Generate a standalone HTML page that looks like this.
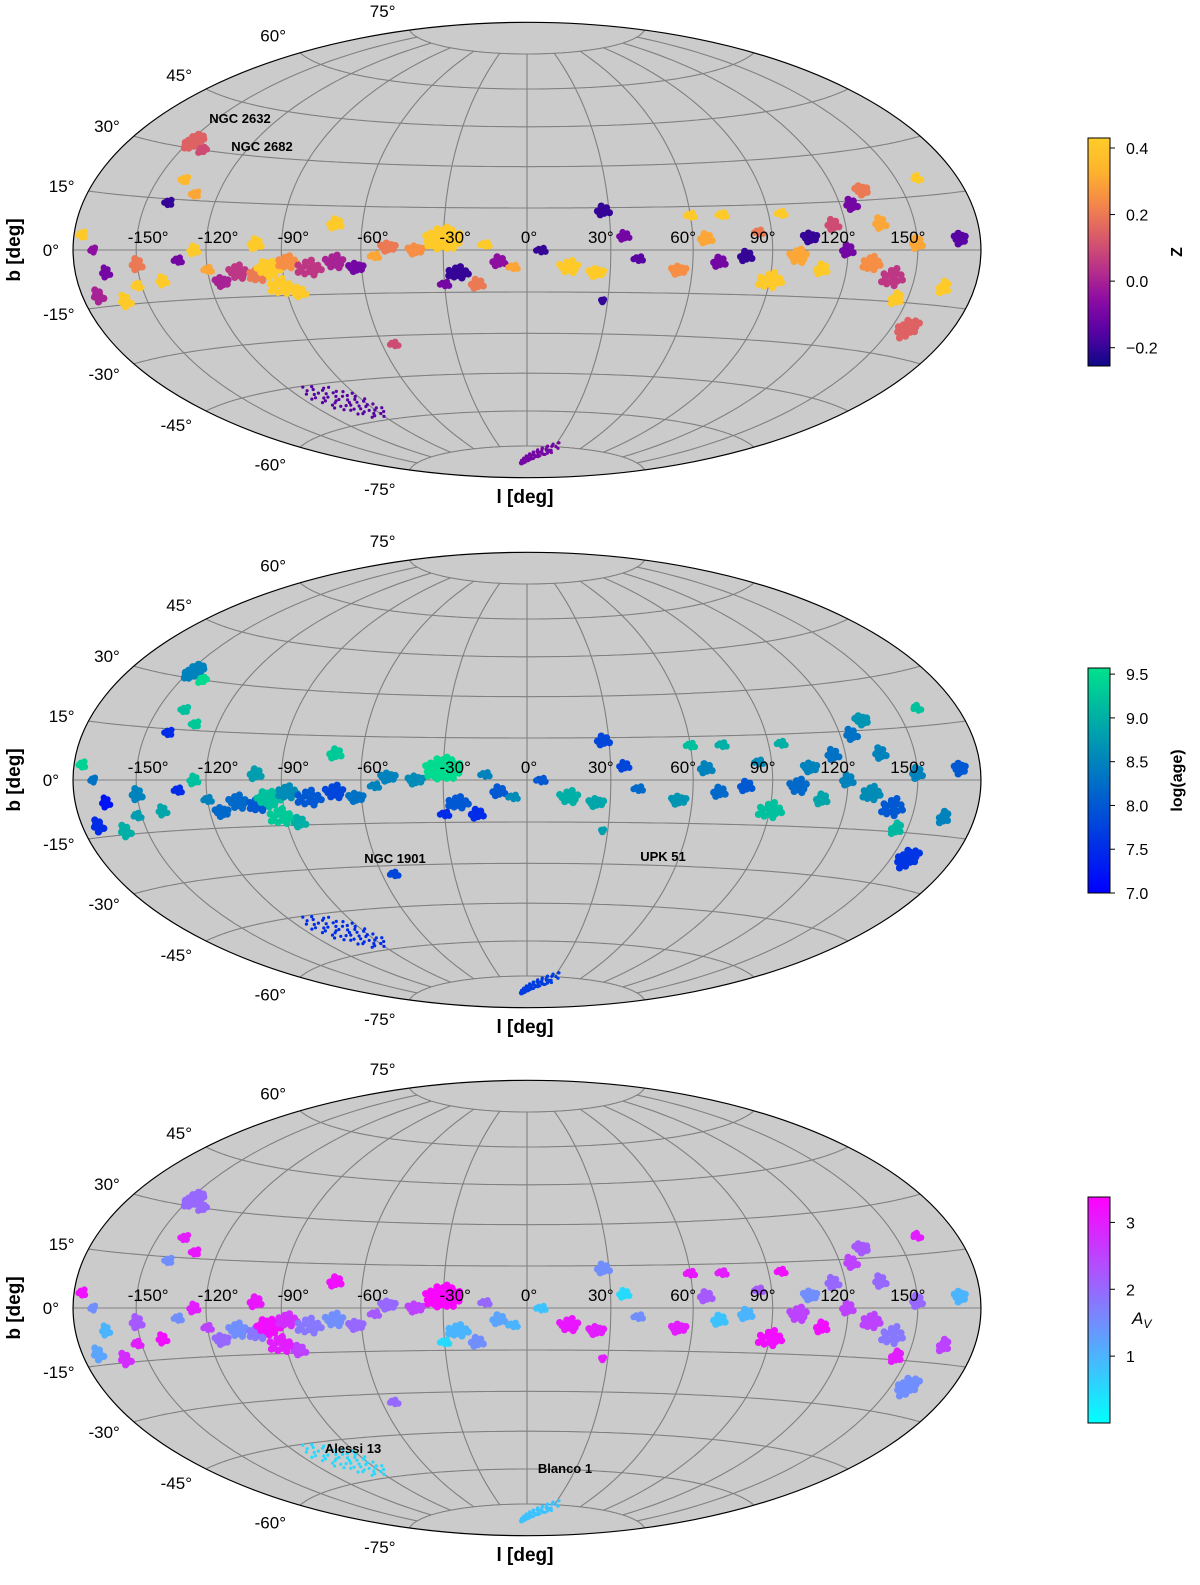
<!DOCTYPE html>
<html><head><meta charset="utf-8"><style>
html,body{margin:0;padding:0;background:#fff;overflow:hidden;width:1200px;height:1585px;}
svg{display:block;}
svg text{font-family:"Liberation Sans","DejaVu Sans",sans-serif;}
</style></head><body>
<svg id="fig" width="1200" height="1585" viewBox="0 0 1200 1585" xmlns="http://www.w3.org/2000/svg"></svg>
<script>
// ---- cluster data (galactic l, b in degrees) ----
const clusterNames=["NGC 2632","NGC 2682","c3","c4","c5","c6","c7","c8","c9","c10","c11","c12","c13","c14","c15","c16","c17","c18","c19","c20","c21","c22","c23","c24","c25","c26","c27","c28","c29","c30","c31","c32","c33","c34","c35","c36","c37","c38","c39","c40","c41","c42","c43","c44","c45","c46","c47","c48","c49","c50","c51","c52","c53","c54","c55","c56","c57","c58","c59","c60","c61","c62","c63","c64","c65","c66","c67","c68","c69","NGC 1901","UPK 51","Alessi 13","Blanco 1"];
const clusterL=[-148,-140,-138,-130,-140,-176,-170,-165,-172,-160,-152,-150,-140,-132,-125,-120,-115,-108,-100,-95,-92,-100,-88,-85,-80,-70,-62,-55,-70,-50,-40,-30,-25,-18,-30,-10,-5,-15,5,15,25,28,35,40,55,60,70,65,72,80,85,90,95,100,105,110,115,120,125,132,130,135,140,145,150,158,165,170,160,-55,28,-100,10];
const clusterB=[32,30,21,17,14,4,0,-6,-12,-14,-10,-4,-9,-3,0,-6,-10,-7,-8,-6,-12,2,-4,-14,-6,-4,-6,-2,9,1,0,4,-8,-12,-12,-4,-6,2,0,-6,-8,14,5,-3,-7,12,-4,4,12,-2,6,-10,12,-2,4,-6,8,0,14,18,-4,8,-8,-14,2,-22,-10,3,20,-33,-18,-52,-79];
const clusterN=[30,10,6,6,6,6,5,8,8,8,6,8,8,6,8,6,10,12,14,18,14,8,14,8,14,12,10,6,8,10,10,34,14,8,6,8,6,6,6,12,10,8,8,6,10,6,8,8,6,8,6,14,6,12,10,8,8,8,8,10,14,8,14,8,8,18,8,10,6,6,4,60,70];
const clusterR=[4,2,2,2,2,2,1.5,2.5,3,3,2,3,2.5,2,2.5,2,3,4,4,5,5,3,4,3,5,4,3,2,3,3,3,7,4,3,2,3,2,2,2,4,3,3,2.5,2,3,2,3,3,2,3,2,5,2,4,3,3,3,3,3,3,4,3,5,3,3,5,3,3,2,2,1,10,6];
const clusterZ=[0.15,0.1,0.35,0.3,-0.2,0.42,-0.05,-0.1,0.0,0.42,0.42,0.2,0.42,-0.1,0.42,0.3,0.0,0.05,0.2,0.42,0.42,0.42,0.25,0.42,0.05,0.0,-0.1,0.3,0.42,0.2,0.25,0.42,-0.2,0.2,-0.1,-0.05,0.3,0.42,-0.2,0.42,0.42,-0.2,-0.1,-0.15,0.25,0.42,-0.1,0.3,0.42,-0.2,0.2,0.42,0.42,0.3,-0.2,0.42,0.1,-0.1,-0.1,0.2,0.25,0.3,0.05,0.42,0.3,0.15,0.42,-0.15,0.42,0.1,-0.2,-0.15,-0.1];
const clusterAge=[8.5,9.5,9.2,9.3,7.5,9.4,8.3,7.2,7.5,9.0,8.8,8.5,8.9,7.5,9.2,8.5,8.2,8.2,8.0,9.2,9.3,8.8,8.6,9.0,8.0,7.8,8.3,8.5,9.3,8.5,8.6,9.5,8.0,7.5,7.5,8.0,8.6,8.5,8.0,9.0,8.9,7.8,7.8,8.2,8.7,9.2,8.2,8.5,9.0,8.0,8.6,9.2,9.0,8.2,8.5,8.9,8.3,8.5,8.3,8.7,8.6,8.5,8.0,9.1,8.5,7.6,8.5,8.0,9.2,7.8,8.8,7.5,7.7];
const clusterAv=[2.0,2.0,3.0,3.1,1.5,3.2,1.5,1.0,1.2,2.8,3.0,2.2,3.2,1.5,3.0,2.5,2.0,1.5,1.8,3.2,3.0,3.1,2.8,2.5,1.8,1.5,2.0,2.2,3.2,2.0,2.5,3.3,1.0,1.5,0.5,1.2,1.0,2.0,0.8,3.1,3.0,1.5,0.5,1.5,3.0,3.1,0.8,2.2,3.0,1.0,2.2,3.2,3.2,2.5,1.5,3.2,2.0,2.5,2.5,2.2,2.5,2.0,1.8,3.0,2.0,1.5,2.5,1.0,3.0,2.0,3.0,0.5,0.8];
// ---- axis ticks ----
const lonTicks=[-150,-120,-90,-60,-30,0,30,60,90,120,150];
const latTicks=[-75,-60,-45,-30,-15,0,15,30,45,60,75];
const zTicks=[-0.2,0.0,0.2,0.4], zTickLabels=["\u22120.2","0.0","0.2","0.4"];
const ageTicks=[7.0,7.5,8.0,8.5,9.0,9.5], ageTickLabels=["7.0","7.5","8.0","8.5","9.0","9.5"];
const avTicks=[1,2,3], avTickLabels=["1","2","3"];

const NS="http://www.w3.org/2000/svg";
const svg=document.getElementById('fig');
function mk(tag,attrs,parent){const e=document.createElementNS(NS,tag);for(const k in attrs)e.setAttribute(k,attrs[k]);(parent||svg).appendChild(e);return e;}
const S=160.5, SY=161, CX=527;
function proj(l,b,cy){const r=Math.PI/180;const cb=Math.cos(b*r),h=l*r/2;const d=Math.sqrt(1+cb*Math.cos(h));
 return [CX+S*2*Math.SQRT2*cb*Math.sin(h)/d, cy-SY*Math.SQRT2*Math.sin(b*r)/d];}
function lerp(stops,t){t=Math.max(0,Math.min(1,t));const n=stops.length-1;const i=Math.min(n-1,Math.floor(t*n));const f=t*n-i;const a=stops[i],c=stops[i+1];
 return `rgb(${Math.round(a[0]+(c[0]-a[0])*f)},${Math.round(a[1]+(c[1]-a[1])*f)},${Math.round(a[2]+(c[2]-a[2])*f)})`;}
const plasma=[[13,8,135],[84,2,163],[139,10,165],[185,50,137],[219,92,104],[244,136,73],[254,180,45],[254,205,40]];
const winter=[[0,0,255],[0,225,140]];
const cool=[[0,255,255],[255,0,255]];
const panels=[
 {cy:250,vals:clusterZ,stops:plasma,vmin:-0.255,vmax:0.43,cb:[138,366],ticks:zTicks,tl:zTickLabels,label:"Z",key:"metallicity",ann:[[0,240,123],[1,262,151]]},
 {cy:780,vals:clusterAge,stops:winter,vmin:7.0,vmax:9.57,cb:[668,893],ticks:ageTicks,tl:ageTickLabels,label:"log(age)",key:"age",ann:[[69,395,863],[70,663,861]]},
 {cy:1308,vals:clusterAv,stops:cool,vmin:0.0,vmax:3.38,cb:[1197,1423],ticks:avTicks,tl:avTickLabels,label:"A_V",key:"extinction",ann:[[71,353,1453],[72,565,1473]]}
];
panels.forEach((p,pi)=>{
 const g=mk('g',{});
 
 
 const bg=mk('ellipse',{cx:CX,cy:p.cy,rx:S*2*Math.SQRT2,ry:SY*Math.SQRT2,fill:'#cbcbcb',stroke:'none'},g);
 
 const gr=mk('g',{fill:'none',stroke:'#808080','stroke-width':1.1},g);
 
 latTicks.forEach(b=>{let d='';for(let l=-180;l<=180;l+=2){const q=proj(l,b,p.cy);d+=(l==-180?'M':'L')+q[0].toFixed(1)+','+q[1].toFixed(1);}const e=mk('path',{d},gr);});
 lonTicks.forEach(l=>{let d='';for(let b=-75;b<=75;b+=1.5){const q=proj(l,b,p.cy);d+=(b==-75?'M':'L')+q[0].toFixed(1)+','+q[1].toFixed(1);}const e=mk('path',{d},gr);});
 const cg=mk('g',{},g);
 const GA=2.39996;
 clusterL.forEach((L,i)=>{
  const col=lerp(p.stops,(p.vals[i]-p.vmin)/(p.vmax-p.vmin));
  const n=clusterN[i],R=clusterR[i];const sparse=n>=60;
  const cl=mk('g',{fill:col},cg);
  
  
  for(let k=0;k<n;k++){
   const rr=R*Math.sqrt((k+0.5)/n),a=k*GA;
   let dl=rr*Math.cos(a),db=rr*Math.sin(a)*0.6;
   if(i==72){const t=(k/n-0.5)*2;dl=t*24+Math.cos(a)*rr/2;db=t*4+Math.sin(a)*rr/2.5;}
   if(i==71){dl=dl*1.6;db=db*1.0-dl*0.25;}
   const q=proj(L+dl,clusterB[i]+db,p.cy);
   mk('circle',{cx:q[0].toFixed(1),cy:q[1].toFixed(1),r:sparse?1.6:(R>=3?3.6:3.2)},cl);
  }
 });
 const ol=mk('ellipse',{cx:CX,cy:p.cy,rx:S*2*Math.SQRT2,ry:SY*Math.SQRT2,fill:'none',stroke:'#000','stroke-width':1.2},g);
 
 lonTicks.forEach(l=>{const q=proj(l,0,p.cy);const t=mk('text',{x:q[0]+(l<0?12:l>0?-10:2),y:p.cy-7,'font-size':17,'text-anchor':'middle',fill:'#000'},g);t.textContent=(l<0?'-'+(-l):l)+'°';});
 latTicks.forEach(b=>{const q=proj(-180,b,p.cy);const t=mk('text',{x:q[0]-14,y:q[1]+6-20*Math.sin(b*Math.PI/180),'font-size':17,'text-anchor':'end',fill:'#000'},g);t.textContent=(b<0?'-'+(-b):b)+'°';});
 const yl=mk('text',{x:0,y:0,'font-size':19,'font-weight':'bold','text-anchor':'middle',transform:`translate(20,${p.cy}) rotate(-90)`},g);yl.textContent='b [deg]';
 const xl=mk('text',{x:525,y:p.cy+253,'font-size':19,'font-weight':'bold','text-anchor':'middle'},g);xl.textContent='l [deg]';
 p.ann.forEach(a=>{const t=mk('text',{x:a[1],y:a[2],'font-size':13,'font-weight':'bold','text-anchor':'middle'},g);t.textContent=clusterNames[a[0]];});
 const cbg=mk('g',{},g);
 const gid='grad'+pi;const defs=mk('defs',{},cbg);const lg=mk('linearGradient',{id:gid,x1:0,y1:1,x2:0,y2:0},defs);
 for(let s=0;s<=20;s++){mk('stop',{offset:s/20,'stop-color':lerp(p.stops,s/20)},lg);}
 const y0=p.cb[0],y1=p.cb[1];
 mk('rect',{x:1088,y:y0,width:22,height:y1-y0,fill:`url(#${gid})`,stroke:'#000','stroke-width':1},cbg);
 const cy=v=>y1-(v-p.vmin)/(p.vmax-p.vmin)*(y1-y0);
 p.ticks.forEach((v,k)=>{const y=cy(v);mk('line',{x1:1110,y1:y,x2:1115,y2:y,stroke:'#000'},cbg);const t=mk('text',{x:1126,y:y+6,'font-size':16},cbg);t.textContent=p.tl[k];});
 if(p.label=='A_V'){const t=mk('text',{x:1132,y:p.cy+16,'font-size':17,'font-style':'italic'},cbg);t.innerHTML='A<tspan font-size="12" dy="4">V</tspan>';}
 else{const t=mk('text',{x:0,y:0,'font-size':16,'font-weight':'bold','text-anchor':'middle',transform:`translate(1182,${(y0+y1)/2}) rotate(-90)`},cbg);t.textContent=p.label;}
});
</script>
</body></html>
